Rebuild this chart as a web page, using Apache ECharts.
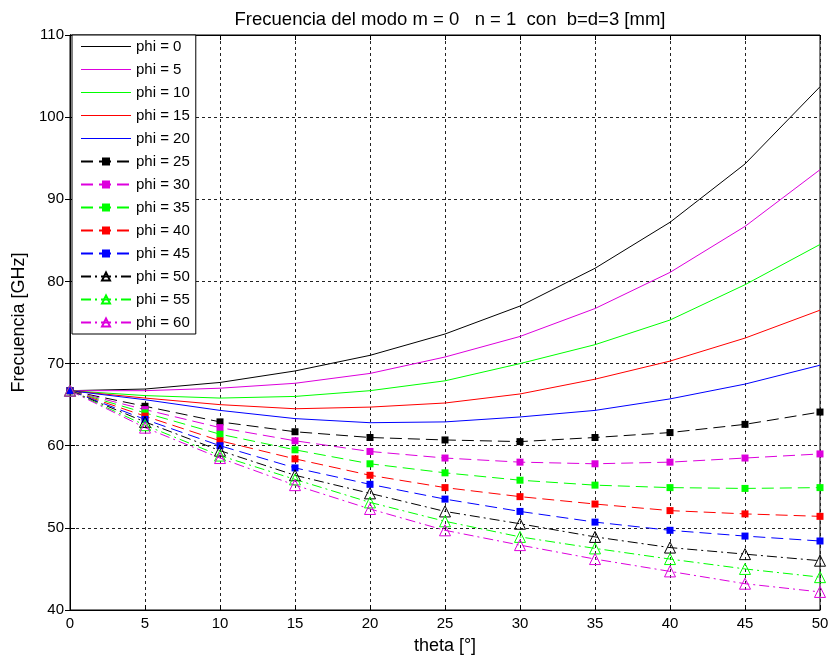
<!DOCTYPE html>
<html><head><meta charset="utf-8">
<script src="https://cdn.jsdelivr.net/npm/echarts@6/dist/echarts.min.js"></script>
<style>html,body{margin:0;padding:0;background:#fff}#c{width:835px;height:662px}</style>
</head><body><div id="c"></div>
<script>
const theta = [0, 5, 10, 15, 20, 25, 30, 35, 40, 45, 50];
const phiLabels = ['phi = 0','phi = 5','phi = 10','phi = 15','phi = 20','phi = 25','phi = 30','phi = 35','phi = 40','phi = 45','phi = 50','phi = 55','phi = 60'];
const phi0  = [66.7, 66.9, 67.7, 69.1, 71.0, 73.6, 77.0, 81.6, 87.2, 94.3, 103.7];
const phi5  = [66.7, 66.7, 67.0, 67.6, 68.8, 70.8, 73.3, 76.7, 81.1, 86.7, 93.6];
const phi10 = [66.7, 66.1, 65.8, 66.0, 66.7, 67.9, 70.0, 72.3, 75.3, 79.6, 84.5];
const phi15 = [66.7, 65.8, 65.0, 64.5, 64.7, 65.2, 66.3, 68.1, 70.3, 73.1, 76.5];
const phi20 = [66.7, 65.6, 64.3, 63.3, 62.8, 62.9, 63.5, 64.3, 65.7, 67.5, 69.8];
const phi25 = [66.7, 64.8, 62.9, 61.7, 61.0, 60.7, 60.5, 61.0, 61.6, 62.6, 64.1];
const phi30 = [66.7, 64.4, 62.2, 60.6, 59.3, 58.5, 58.0, 57.8, 58.0, 58.5, 59.0];
const phi35 = [66.7, 64.0, 61.4, 59.5, 57.8, 56.7, 55.8, 55.2, 54.9, 54.8, 54.9];
const phi40 = [66.7, 63.6, 60.6, 58.4, 56.4, 54.9, 53.8, 52.9, 52.1, 51.7, 51.4];
const phi45 = [66.7, 63.2, 60.0, 57.3, 55.3, 53.5, 52.0, 50.7, 49.7, 49.0, 48.4];
const phi50 = [66.7, 62.9, 59.4, 56.4, 54.2, 52.0, 50.5, 48.9, 47.6, 46.8, 46.0];
const phi55 = [66.7, 62.5, 58.8, 55.9, 53.1, 50.8, 48.9, 47.5, 46.2, 45.0, 44.0];
const phi60 = [66.7, 62.2, 58.5, 55.2, 52.3, 49.7, 47.9, 46.2, 44.7, 43.2, 42.2];
const xTicks = [0, 5, 10, 15, 20, 25, 30, 35, 40, 45, 50];
const yTicks = [40, 50, 60, 70, 80, 90, 100, 110];

const allData = [phi0, phi5, phi10, phi15, phi20, phi25, phi30, phi35, phi40, phi45, phi50, phi55, phi60];
const lineColors = ['#000000','#dd00dd','#00ff00','#ff0000','#0000ff',
                    '#000000','#dd00dd','#00ff00','#ff0000','#0000ff',
                    '#000000','#00ff00','#dd00dd'];
const FONT = 'Liberation Sans, Arial, sans-serif';

const series = allData.map((d, i) => {
  const c = lineColors[i];
  const group = i < 5 ? 0 : (i < 10 ? 1 : 2);
  const s = {
    name: phiLabels[i], type: 'line',
    data: d.map((v, k) => [theta[k], v]),
    lineStyle: { color: c, width: 1, type: group === 0 ? 'solid' : (group === 1 ? [12, 6] : [10, 4, 2, 4]) },
    itemStyle: { color: c },
    animation: false, silent: true
  };
  if (group === 0) { s.symbol = 'none'; s.showSymbol = false; }
  else if (group === 1) { s.symbol = 'rect'; s.symbolSize = 7; s.showSymbol = true; }
  else { s.symbol = 'triangle'; s.symbolSize = 11; s.showSymbol = true;
         s.itemStyle = { color: 'rgba(255,255,255,0)', borderColor: c, borderWidth: 1 }; }
  return s;
});

const legendData = phiLabels.map((n, i) => i < 5
  ? { name: n, itemStyle: { color: 'rgba(0,0,0,0)', borderWidth: 0, opacity: 0 }, lineStyle: { color: lineColors[i], width: 1 } }
  : { name: n });

const chart = echarts.init(document.getElementById('c'), null, { renderer: 'canvas' });
chart.setOption({
  backgroundColor: '#ffffff',
  animation: false,
  title: { text: 'Frecuencia del modo m = 0   n = 1  con  b=d=3 [mm]', left: 445, top: 5, textAlign: 'center',
    textStyle: { fontFamily: FONT, fontSize: 18.5, fontWeight: 'normal', color: '#000' } },
  grid: { left: 70, right: 15, top: 35, bottom: 52, show: true, borderColor: '#000', borderWidth: 1, backgroundColor: '#fff',
          outerBoundsMode: 'none', containLabel: false },
  legend: {
    orient: 'vertical', left: 72, top: 35, padding: [4, 6, 4, 8], itemGap: 8, itemWidth: 50, itemHeight: 10,
    backgroundColor: '#fff', borderColor: '#000', borderWidth: 1, borderRadius: 0,
    textStyle: { fontFamily: FONT, fontSize: 15, color: '#000' },
    data: legendData
  },
  xAxis: [{
    type: 'value', min: 0, max: 50, interval: 5,
    name: 'theta [°]', nameLocation: 'middle', nameGap: 27,
    nameTextStyle: { fontFamily: FONT, fontSize: 18, color: '#000' },
    axisLine: { show: true, lineStyle: { color: '#000' } },
    axisTick: { show: true, inside: true, length: 5, lineStyle: { color: '#000' } },
    axisLabel: { fontFamily: FONT, fontSize: 15, color: '#000', margin: 6 },
    splitLine: { show: true, lineStyle: { color: '#222', type: [3, 3], width: 1 } }
  }, {
    type: 'value', min: 0, max: 50, interval: 5, position: 'top',
    axisLine: { show: true, lineStyle: { color: '#000' } },
    axisTick: { show: true, inside: true, length: 5, lineStyle: { color: '#000' } },
    axisLabel: { show: false }, splitLine: { show: false }
  }],
  yAxis: [{
    type: 'value', min: 40, max: 110, interval: 10,
    name: 'Frecuencia [GHz]', nameLocation: 'middle', nameGap: 41,
    nameTextStyle: { fontFamily: FONT, fontSize: 18, color: '#000' },
    axisLine: { show: true, lineStyle: { color: '#000' } },
    axisTick: { show: true, inside: true, length: 5, lineStyle: { color: '#000' } },
    axisLabel: { fontFamily: FONT, fontSize: 15, color: '#000', margin: 6 },
    splitLine: { show: true, lineStyle: { color: '#222', type: [3, 3], width: 1 } }
  }, {
    type: 'value', min: 40, max: 110, interval: 10, position: 'right',
    axisLine: { show: true, lineStyle: { color: '#000' } },
    axisTick: { show: true, inside: true, length: 5, lineStyle: { color: '#000' } },
    axisLabel: { show: false }, splitLine: { show: false }
  }],
  series: series
});
</script></body></html>
